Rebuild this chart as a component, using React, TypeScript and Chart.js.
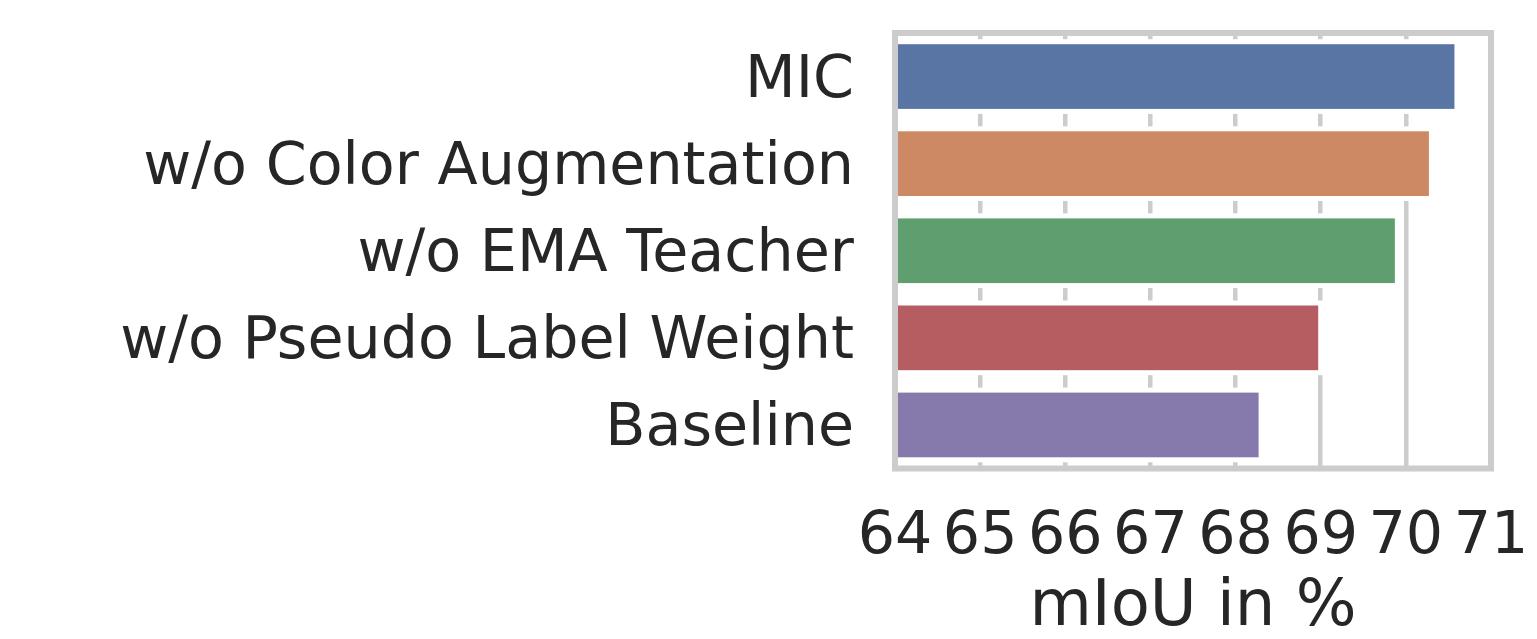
import React, { useEffect, useRef } from "react";
import { Chart, registerables } from "chart.js";

Chart.register(...registerables);

const categories = [
  "MIC",
  "w/o Color Augmentation",
  "w/o EMA Teacher",
  "w/o Pseudo Label Weight",
  "Baseline",
];
const miouValues = [70.6, 70.3, 69.9, 69.0, 68.3];
const barColors = ["#5975a4", "#cc8963", "#5f9e6e", "#b55d60", "#857aab"];
const xTickValues = [64, 65, 66, 67, 68, 69, 70, 71];
const xAxisTitle = "mIoU in %";

const FONT = "'DejaVu Sans', sans-serif";
const FONT_SIZE = 58.7;
const TITLE_SIZE = 64;
const TEXT = "#262626";
const GRID = "#cccccc";
const Y_LABEL_SHIFT = 5;

const shiftYLabels = {
  id: "shiftYLabels",
  beforeDraw(chart: any) {
    const scale = chart.scales.y;
    const items = scale.getLabelItems();
    items.forEach((it: any) => {
      if (!it.__shifted) {
        it.options.translation[1] += Y_LABEL_SHIFT;
        it.__shifted = true;
      }
    });
  },
};

const edgeAndFrame = {
  id: "edgeAndFrame",
  afterDatasetsDraw(chart: any) {
    const { ctx, chartArea } = chart;
    const meta = chart.getDatasetMeta(0);
    ctx.save();
    ctx.beginPath();
    ctx.rect(chartArea.left, chartArea.top, chartArea.right - chartArea.left, chartArea.bottom - chartArea.top);
    ctx.clip();
    ctx.strokeStyle = "#ffffff";
    ctx.lineWidth = 5;
    meta.data.forEach((el: any) => {
      const { x, y, base, height } = el.getProps(["x", "y", "base", "height"], true);
      const left = Math.min(x, base) - 20;
      const right = Math.max(x, base);
      ctx.strokeRect(left, y - height / 2, right - left, height);
    });
    ctx.restore();
    ctx.save();
    ctx.strokeStyle = GRID;
    ctx.lineWidth = 6;
    ctx.strokeRect(chartArea.left, chartArea.top, chartArea.right - chartArea.left, chartArea.bottom - chartArea.top);
    ctx.restore();
  },
};

export default function App() {
  const ref = useRef<HTMLCanvasElement | null>(null);
  useEffect(() => {
    if (!ref.current) return;
    const chart = new Chart(ref.current, {
      type: "bar",
      data: {
        labels: categories,
        datasets: [
          {
            data: miouValues,
            backgroundColor: barColors,
            borderWidth: 0,
            barPercentage: 0.8,
            categoryPercentage: 1.0,
          },
        ],
      },
      options: {
        indexAxis: "y",
        animation: false,
        responsive: true,
        maintainAspectRatio: false,
        layout: { padding: { top: 25, left: 0, right: 38, bottom: 0 } },
        plugins: {
          legend: { display: false },
          tooltip: { enabled: false },
        },
        scales: {
          x: {
            type: "linear",
            min: 64,
            max: 71,
            afterBuildTicks: (scale: any) => {
              scale.ticks = xTickValues.map((v) => ({ value: v }));
            },
            afterFit: (scale: any) => {
              scale.height = 162.5;
              scale.paddingLeft = 0;
              scale.paddingRight = 0;
            },
            grid: { color: GRID, lineWidth: 4.5, drawTicks: false },
            border: { display: false },
            ticks: {
              color: TEXT,
              font: { family: FONT, size: FONT_SIZE },
              padding: 34.3,
              maxRotation: 0,
              autoSkip: false,
            },
            title: {
              display: true,
              text: xAxisTitle,
              color: TEXT,
              font: { family: FONT, size: TITLE_SIZE, lineHeight: 0.703 },
              padding: { top: 0, bottom: 0 },
            },
          },
          y: {
            type: "category",
            afterFit: (scale: any) => {
              scale.width = 887;
              scale.paddingTop = 0;
              scale.paddingBottom = 0;
            },
            grid: { display: false, drawTicks: false },
            border: { display: false },
            ticks: {
              color: TEXT,
              font: { family: FONT, size: FONT_SIZE },
              padding: 41,
              autoSkip: false,
            },
          },
        },
      },
      plugins: [shiftYLabels, edgeAndFrame],
    });
    return () => chart.destroy();
  }, []);
  return (
    <div style={{ position: "relative", width: "1521px", height: "623px" }}>
      <canvas ref={ref} />
    </div>
  );
}
